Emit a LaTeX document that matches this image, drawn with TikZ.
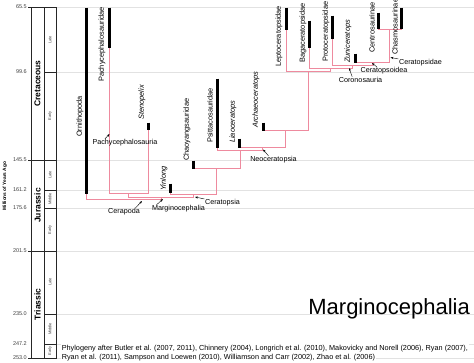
\documentclass[tikz,border=0pt]{standalone}
\usepackage{fontspec}
\setmainfont{Liberation Sans}
\usetikzlibrary{arrows.meta}
\definecolor{lineagepink}{RGB}{238,138,158}
\definecolor{gridgrey}{RGB}{226,226,226}
\tikzset{
  taxbar/.style={line width=3pt},
  lineage/.style={draw=lineagepink, line width=0.9pt},
  epochline/.style={draw=gridgrey, line width=0.8pt},
  scaleline/.style={draw=black!85, line width=0.5pt},
  taxlabel/.style={rotate=90, anchor=west, inner sep=0pt, font=\fontsize{7.4}{8}\selectfont},
  genuslabel/.style={taxlabel, font=\fontsize{7.4}{8}\selectfont\itshape},
  cladelabel/.style={inner sep=0.5pt, font=\fontsize{7.2}{8}\selectfont},
  cladearrow/.style={-{Stealth[length=3pt,width=2.2pt]}, line width=0.4pt},
  agelabel/.style={anchor=east, inner sep=0pt, text=black!75, font=\fontsize{5.5}{6}\selectfont},
  periodlabel/.style={rotate=90, inner sep=0pt, font=\fontsize{8.5}{9}\selectfont\bfseries},
  stagelabel/.style={rotate=90, inner sep=0pt, text=black!75, font=\fontsize{4}{4.5}\selectfont},
  sourcetext/.style={anchor=base west, inner sep=0.6pt, fill=white, font=\fontsize{7.3}{8}\selectfont}
}
\begin{document}
\begin{tikzpicture}[x=1pt, y=-1pt]
\useasboundingbox (0,0) rectangle (474,362);
% time scale
\draw[epochline] (56,7.5) -- (474,7.5);
\draw[epochline] (56,72.5) -- (474,72.5);
\draw[epochline] (56,160.5) -- (474,160.5);
\draw[epochline] (56,190.5) -- (474,190.5);
\draw[epochline] (56,208.5) -- (474,208.5);
\draw[epochline] (56,251.5) -- (474,251.5);
\draw[epochline] (56,314.5) -- (474,314.5);
\draw[epochline] (56,344.5) -- (474,344.5);
\draw[epochline] (56,358.5) -- (474,358.5);
\draw[scaleline] (31,7) rectangle (56,358);
\draw[scaleline] (44,7) -- (44,358);
\draw[scaleline] (28,7) -- (56,7);
\draw[scaleline] (28,160) -- (56,160);
\draw[scaleline] (28,251) -- (56,251);
\draw[scaleline] (28,358) -- (56,358);
\draw[scaleline] (44,72) -- (56,72);
\draw[scaleline] (44,190) -- (56,190);
\draw[scaleline] (44,208) -- (56,208);
\draw[scaleline] (44,314) -- (56,314);
\draw[scaleline] (44,344) -- (56,344);
\node[agelabel] (a655) at (27,7) {65.5};
\node[agelabel] (a996) at (27,72) {99.6};
\node[agelabel] (a1455) at (27,160) {145.5};
\node[agelabel] (a1612) at (27,190) {161.2};
\node[agelabel] (a1756) at (27,208) {175.6};
\node[agelabel] (a2015) at (27,251) {201.5};
\node[agelabel] (a2350) at (27,314) {235.0};
\node[agelabel] (a2472) at (27,344) {247.2};
\node[agelabel] (a2530) at (27,358) {253.0};
\node[rotate=90, inner sep=0pt, font=\fontsize{4.8}{5}\selectfont\bfseries] (mya) at (5,186) {Millions of Years Ago};
\node[periodlabel] (cret) at (37.5,83.5) {Cretaceous};
\node[periodlabel] (jura) at (37.5,205.5) {Jurassic};
\node[periodlabel] (tria) at (37.5,304.5) {Triassic};
\node[stagelabel] (kl) at (50,40) {Late};
\node[stagelabel] (ke) at (50,116) {Early};
\node[stagelabel] (jl) at (50,175) {Late};
\node[stagelabel] (jm) at (50,199) {Middle};
\node[stagelabel] (je) at (50,230) {Early};
\node[stagelabel] (tl) at (50,282) {Late};
\node[stagelabel] (tm) at (50,329) {Middle};
\node[stagelabel] (te) at (50,351) {Early};
\begin{scope}[shift={(0.5,0.5)}]
% taxa (bottom of known range)
\coordinate (orni) at (86,193);
\coordinate (pachyd) at (109,47);
\coordinate (steno) at (148,129);
\coordinate (yinlong) at (170,192);
\coordinate (chaoy) at (193,168);
\coordinate (psitt) at (217,147);
\coordinate (liao) at (239,147);
\coordinate (archaeo) at (263,130);
\coordinate (lepto) at (286,29);
\coordinate (baga) at (309,47);
\coordinate (proto) at (332,38);
\coordinate (zuni) at (355,62);
\coordinate (centro) at (378,28);
\coordinate (chasmo) at (401,28);
% clades
\coordinate (ceratopsidae) at (389,29);
\coordinate (ceratopsoidea) at (372,62);
\coordinate (coronosauria) at (352,65);
\coordinate (bagaclade) at (330,68);
\coordinate (leptoclade) at (308,71);
\coordinate (archaeoclade) at (285,130);
\coordinate (neoceratopsia) at (262,147);
\coordinate (psittclade) at (240,150);
\coordinate (chaoyclade) at (216,168);
\coordinate (ceratopsia) at (193,194);
\coordinate (pachycephalosauria) at (128,193);
\coordinate (marginocephalia) at (161,197);
\coordinate (cerapoda) at (123,199);
\draw[lineage] (centro) |- (ceratopsidae) -| (chasmo);
\draw[lineage] (zuni) |- (ceratopsoidea) -| (ceratopsidae);
\draw[lineage] (proto) |- (coronosauria) -| (ceratopsoidea);
\draw[lineage] (baga) |- (bagaclade) -| (coronosauria);
\draw[lineage] (lepto) |- (leptoclade) -| (bagaclade);
\draw[lineage] (archaeo) |- (archaeoclade) -| (leptoclade);
\draw[lineage] (liao) |- (neoceratopsia) -| (archaeoclade);
\draw[lineage] (psitt) |- (psittclade) -| (neoceratopsia);
\draw[lineage] (chaoy) |- (chaoyclade) -| (psittclade);
\draw[lineage] (yinlong) |- (ceratopsia) -| (chaoyclade);
\draw[lineage] (pachyd) |- (pachycephalosauria) -| (steno);
\draw[lineage] (pachycephalosauria) |- (marginocephalia) -| (ceratopsia);
\draw[lineage] (orni) |- (cerapoda) -| (marginocephalia);
\draw[taxbar] (86,7) -- (orni);
\draw[taxbar] (109,7) -- (pachyd);
\draw[taxbar] (148,122) -- (steno);
\draw[taxbar] (170,183) -- (yinlong);
\draw[taxbar] (193,160) -- (chaoy);
\draw[taxbar] (217,78) -- (psitt);
\draw[taxbar] (239,138) -- (liao);
\draw[taxbar] (263,122) -- (archaeo);
\draw[taxbar] (286,7) -- (lepto);
\draw[taxbar] (309,20) -- (baga);
\draw[taxbar] (332,15) -- (proto);
\draw[taxbar] (355,53) -- (zuni);
\draw[taxbar] (378,12) -- (centro);
\draw[taxbar] (401,7) -- (chasmo);
\end{scope}
\node[taxlabel] (lblorni) at (80,137) {Ornithopoda};
\node[taxlabel] (lblpachyd) at (102,82) {Pachycephalosauridae};
\node[genuslabel] (lblsteno) at (142,120) {Stenopelix};
\node[genuslabel] (lblyinlong) at (164,191) {Yinlong};
\node[taxlabel] (lblchaoy) at (187,161) {Chaoyangsauridae};
\node[taxlabel] (lblpsitt) at (210,143) {Psittacosauridae};
\node[genuslabel] (lblliao) at (233,143) {Liaoceratops};
\node[genuslabel] (lblarchaeo) at (256,128) {Archaeoceratops};
\node[taxlabel] (lbllepto) at (279,67) {Leptoceratopsidae};
\node[taxlabel] (lblbaga) at (303,63) {Bagaceratopsidae};
\node[taxlabel] (lblproto) at (326,62) {Protoceratopsidae};
\node[genuslabel] (lblzuni) at (348,63) {Zuniceratops};
\node[taxlabel] (lblcentro) at (372,53) {Centrosaurinae};
\node[taxlabel] (lblchasmo) at (395,55) {Chasmosaurinae};
% clade names
\coordinate (tippachy) at (109.5,134);
\coordinate (tipcer) at (142,201);
\coordinate (tipmarg) at (163,199);
\coordinate (tipceratopsia) at (195,197);
\coordinate (tipneo) at (263,149.5);
\coordinate (tipcorono) at (349,68);
\coordinate (tipceratopsoidea) at (372,63);
\coordinate (tipceratopsidae) at (390.5,57.5);
\node[cladelabel] (lblpachycephalosauria) at (125,143) {Pachycephalosauria};
\node[cladelabel] (lblcerapoda) at (124,212) {Cerapoda};
\node[cladelabel] (lblmarginocephalia) at (178.5,209) {Marginocephalia};
\node[cladelabel] (lblceratopsia) at (222.5,203) {Ceratopsia};
\node[cladelabel] (lblneoceratopsia) at (273.5,160) {Neoceratopsia};
\node[cladelabel] (lblcoronosauria) at (360.5,80) {Coronosauria};
\node[cladelabel] (lblceratopsoidea) at (384,71) {Ceratopsoidea};
\node[cladelabel] (lblceratopsidae) at (420.5,63) {Ceratopsidae};
\draw[cladearrow] ([xshift=13pt]lblpachycephalosauria.north west) -- (tippachy);
\draw[cladearrow] ([xshift=-5pt]lblcerapoda.north east) -- (tipcer);
\draw[cladearrow] ([xshift=5pt]lblmarginocephalia.north west) -- (tipmarg);
\draw[cladearrow] (lblceratopsia.north west) -- (tipceratopsia);
\draw[cladearrow] ([xshift=19pt]lblneoceratopsia.north west) -- (tipneo);
\draw[cladearrow] ([xshift=14pt]lblcoronosauria.north west) -- (tipcorono);
\draw[cladearrow] ([xshift=17pt]lblceratopsoidea.north west) -- (tipceratopsoidea);
\draw[cladearrow] (lblceratopsidae.north west) -- (tipceratopsidae);
% title and sources
\node[anchor=base east, inner sep=0pt, font=\fontsize{22}{24}\selectfont] (title) at (470,314) {Marginocephalia};
\node[sourcetext] (refsa) at (61,350) {Phylogeny after Butler et al. (2007, 2011), Chinnery (2004), Longrich et al. (2010), Makovicky and Norell (2006), Ryan (2007),};
\node[sourcetext] (refsb) at (61,359) {Ryan et al. (2011), Sampson and Loewen (2010), Williamson and Carr (2002), Zhao et al. (2006)};
\end{tikzpicture}
\end{document}
